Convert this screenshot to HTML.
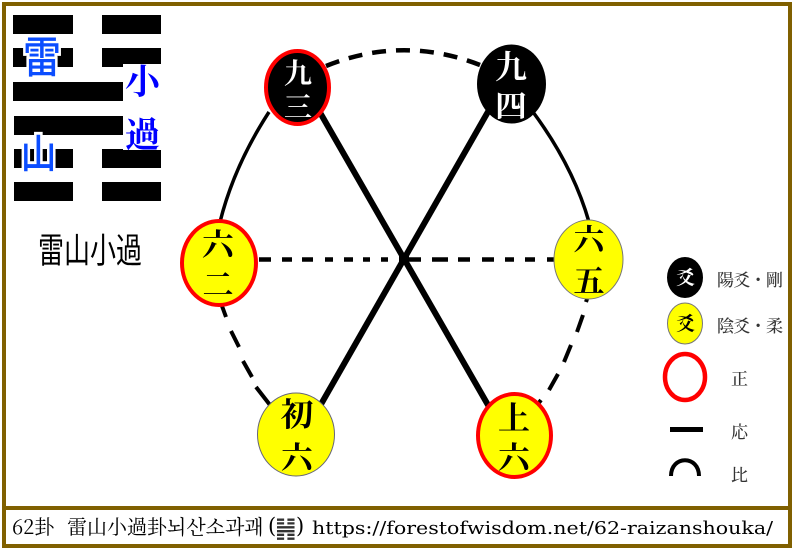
<!DOCTYPE html>
<html lang="ja">
<head>
<meta charset="utf-8">
<style>
html,body{margin:0;padding:0;background:#fff}
svg{display:block}
text{font-family:"Liberation Serif","Noto Serif CJK SC","Noto Sans CJK JP",serif}
.ser{font-family:"Noto Serif CJK SC","Noto Sans CJK JP",serif}
.san{font-family:"Noto Sans CJK JP","Noto Sans CJK SC",sans-serif}
</style>
</head>
<body>
<svg width="793" height="550" viewBox="0 0 793 550" xmlns="http://www.w3.org/2000/svg">
<rect width="793" height="550" fill="#fff"/>
<rect x="4" y="4" width="786" height="542" fill="none" stroke="#806000" stroke-width="4"/>
<rect x="4" y="506" width="786" height="4" fill="#806000"/>

<!-- hexagram -->
<g fill="#000">
<rect x="13" y="15" width="60" height="19"/><rect x="102" y="15" width="59" height="19"/>
<rect x="13" y="48" width="60" height="19"/><rect x="102" y="48" width="59" height="19"/>
<rect x="13" y="82" width="148" height="19"/>
<rect x="14" y="116" width="147" height="19"/>
<rect x="14" y="149" width="59" height="19"/><rect x="102" y="149" width="59" height="19"/>
<rect x="14" y="182" width="59" height="19"/><rect x="102" y="182" width="59" height="19"/>
</g>
<rect x="123" y="64" width="38" height="86" fill="#fff"/>
<g text-anchor="middle" fill="#0b4dff" stroke="#fff" stroke-width="5" paint-order="stroke" font-weight="500">
<text font-size="38" transform="translate(42 73) scale(1 1.15)" class="san">雷</text>
<text font-size="36" transform="translate(38.5 168) scale(1 1.12)" class="san">山</text>
</g>
<g font-size="35" text-anchor="middle" fill="#0000ff" font-weight="700">
<text x="142.5" y="94" class="ser">小</text>
<text x="142.5" y="147" class="ser">過</text>
</g>
<text x="90" y="263" font-size="35" text-anchor="middle" textLength="104" lengthAdjust="spacingAndGlyphs" fill="#000" class="san">雷山小過</text>

<!-- solid curves -->
<g fill="none" stroke="#000" stroke-width="3.5">
<path d="M269 112 Q234 166 220 222"/>
<path d="M533 112 Q573 166 589 222"/>
</g>
<!-- top dashed arc -->
<path d="M326 66 Q403 35 480 65" fill="none" stroke="#000" stroke-width="4.5" stroke-dasharray="14 10"/>
<!-- horizontal dashes -->
<g stroke="#000" stroke-width="4.5" fill="none">
<path d="M259 259.5H271M282 259.5H292M302 259.5H313M325 259.5H333M344 259.5H353M363 259.5H370M381 259.5H388M408 259.5H421M432 259.5H448M458 259.5H470M482 259.5H494M505 259.5H514M525 259.5H535M547 259.5H555"/>
</g>
<!-- side dashes -->
<g stroke="#000" stroke-width="4" fill="none">
<path d="M222 306L226 317M231 331L239 347M243 361L252 377M256 387L270 405"/>
<path d="M587 299L586 302M583 315L577 332M571 345L564 362M558 374L549 390M541 400L538 404"/>
</g>
<!-- diagonals -->
<g stroke="#000" stroke-width="6" fill="none">
<path d="M320 112.5L490 408.5"/>
<path d="M320 406L489 110"/>
</g>
<rect x="399" y="254" width="10" height="11" fill="#000"/>

<!-- nodes -->
<ellipse cx="297.5" cy="87.5" rx="31.5" ry="36.5" fill="#000" stroke="#f00" stroke-width="4"/>
<ellipse cx="511.5" cy="84" rx="34.5" ry="39.5" fill="#000"/>
<ellipse cx="219" cy="263" rx="37" ry="42" fill="#ff0" stroke="#f00" stroke-width="4"/>
<ellipse cx="588.5" cy="259.5" rx="34.5" ry="39.5" fill="#ff0" stroke="#777" stroke-width="1"/>
<ellipse cx="296" cy="434.5" rx="38.5" ry="41.5" fill="#ff0" stroke="#667" stroke-width="1"/>
<ellipse cx="514.5" cy="435.5" rx="36.5" ry="41.5" fill="#ff0" stroke="#f00" stroke-width="4"/>

<g text-anchor="middle" font-weight="700">
<g fill="#fff">
<text x="298" y="83" font-size="28" class="ser">九</text>
<text x="298" y="117" font-size="28" class="ser">三</text>
<text x="511" y="78" font-size="32" class="ser">九</text>
<text x="511" y="117" font-size="32" class="ser">四</text>
</g>
<g fill="#000">
<text x="218" y="256" font-size="32" class="ser">六</text>
<text x="218" y="296" font-size="31" class="ser">二</text>
<text x="589" y="251" font-size="31" class="ser">六</text>
<text x="589" y="292" font-size="31" class="ser">五</text>
<text x="297" y="426" font-size="33" class="ser">初</text>
<text x="297" y="469" font-size="32" class="ser">六</text>
<text x="514" y="429" font-size="32" class="ser">上</text>
<text x="514" y="469" font-size="32" class="ser">六</text>
</g>
</g>

<!-- legend -->
<ellipse cx="685" cy="277.5" rx="18" ry="20.5" fill="#000"/>
<ellipse cx="685" cy="323.5" rx="17.5" ry="20.5" fill="#ff0" stroke="#777" stroke-width="1"/>
<ellipse cx="685" cy="377" rx="20" ry="23" fill="#fff" stroke="#f00" stroke-width="4.5"/>
<rect x="670" y="427" width="33" height="5" fill="#000"/>
<path d="M671 476C671 455 699 455 699 476" fill="none" stroke="#000" stroke-width="4"/>
<g text-anchor="middle" font-weight="700" font-size="19">
<text x="685.5" y="284" fill="#fff" class="ser">爻</text>
<text x="685.5" y="330" fill="#000" class="ser">爻</text>
</g>
<g fill="#333" font-size="17" font-weight="500">
<text x="717" y="286" textLength="66" lengthAdjust="spacing" class="ser">陽爻・剛</text>
<text x="717" y="332" textLength="66" lengthAdjust="spacing" class="ser">陰爻・柔</text>
<text x="739.5" y="385" text-anchor="middle" class="ser">正</text>
<text x="739.5" y="438" text-anchor="middle" class="ser">応</text>
<text x="739.5" y="481" text-anchor="middle" class="ser">比</text>
</g>

<!-- caption -->
<g font-size="20" fill="#000">
<text x="12" y="534" class="ser">62卦</text>
<text x="67" y="534" class="ser">雷山小過卦뇌산소과괘</text>
<text x="268" y="533" font-size="21" style="font-family:'DejaVu Serif',serif">(</text>
<text x="275" y="536" font-size="24" fill="#333" style="font-family:'DejaVu Sans',sans-serif">䷽</text>
<text x="296" y="533" font-size="21" style="font-family:'DejaVu Serif',serif">)</text>
<text x="312" y="534" font-size="18" textLength="461" lengthAdjust="spacingAndGlyphs" style="font-family:'DejaVu Serif',serif">https://forestofwisdom.net/62-raizanshouka/</text>
</g>
</svg>
</body>
</html>
